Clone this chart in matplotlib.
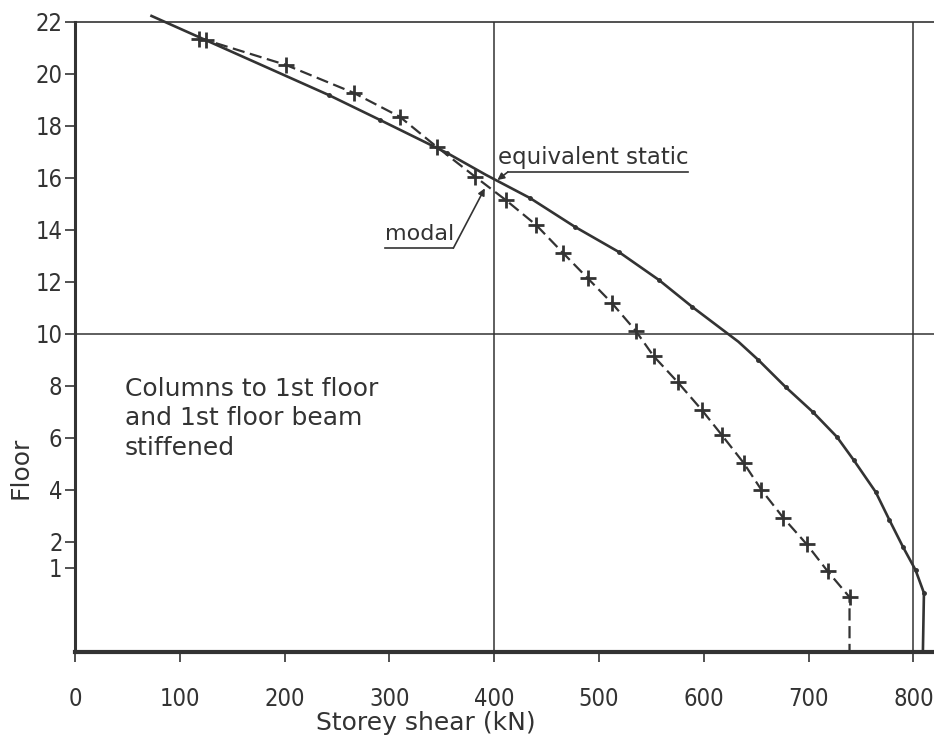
import matplotlib.pyplot as plt

plt.rcParams['font.family'] = 'DejaVu Sans'

# axis ticks
floor_ticks = [1, 2, 4, 6, 8, 10, 12, 14, 16, 18, 20, 22]
shear_ticks = [0, 100, 200, 300, 400, 500, 600, 700, 800]

# equivalent static curve (solid)
static_floor = [22.23, 19.19, 18.23, 16.96, 16.12, 15.23, 14.12, 13.15, 12.08, 11.04,
                9.7, 9.0, 7.96, 7.0, 6.04, 5.15, 3.92, 2.85, 1.81, 0.92, 0.04, -2.23]
static_shear = [73, 242, 291, 355, 392, 434, 477, 519, 557, 589,
                633, 652, 678, 704, 727, 743, 764, 777, 790, 802, 810, 809]

# modal curve (dashed, + markers)
modal_floor = [21.35, 21.3, 20.35, 19.27, 18.35, 17.2, 16.04, 15.15, 14.19, 13.1, 12.15, 11.2,
               10.12, 9.15, 8.15, 7.08, 6.12, 5.04, 4.0, 2.92, 1.92, 0.88, -0.12, -2.23]
modal_shear = [118, 125, 201, 266, 310, 345, 382, 411, 440, 466, 489, 512,
               535, 552, 575, 598, 617, 638, 655, 676, 698, 718, 739, 739]

ink = '#333333'

fig = plt.figure(figsize=(9.34, 7.43), dpi=100)
ax = fig.add_axes([0.0803, 0.1225, 0.9197, 0.848])

# reference lines
ax.axvline(400, color=ink, lw=1.1)
ax.axvline(800, color=ink, lw=1.1)
ax.axhline(10, color=ink, lw=1.1)

ax.plot(static_shear, static_floor, color=ink, lw=1.9, marker='o', ms=2.5,
        markevery=[i for i in range(1, len(static_shear) - 1) if i not in (4, 10)],
        clip_on=False, zorder=3)
ax.plot(modal_shear, modal_floor, color=ink, lw=1.6, ls=(0, (5.5, 2.5)),
        marker='+', ms=11, mew=2, markevery=list(range(len(modal_shear) - 1)), zorder=3)

ax.set_xlim(0, 819.6)
ax.set_ylim(-2.23, 22)
ax.set_xticks(shear_ticks)
ax.set_yticks(floor_ticks)

ax.spines['right'].set_visible(False)
ax.spines['top'].set_linewidth(1.2)
ax.spines['left'].set_linewidth(2.2)
ax.spines['bottom'].set_linewidth(3)
for s in ax.spines.values():
    s.set_color(ink)

ax.tick_params(direction='out', length=7, width=1.2, colors=ink, labelsize=17)
ax.tick_params(axis='x', pad=18)
ax.tick_params(axis='y', pad=2)
for lab in ax.get_xticklabels() + ax.get_yticklabels():
    lab.set_fontstretch('condensed')

ax.set_xlabel('Storey shear (kN)', fontsize=18, color=ink)
ax.xaxis.set_label_coords(0.4086, -0.093)
ax.set_ylabel('Floor', fontsize=18, color=ink)
ax.yaxis.set_label_coords(-0.049, 0.292)

# annotations
ax.text(0.058, 0.437, 'Columns to 1st floor\nand 1st floor beam\nstiffened',
        transform=ax.transAxes, fontsize=18, color=ink, va='top', ha='left',
        linespacing=1.3)

ax.text(404, 16.35, 'equivalent static', fontsize=16.5, color=ink, va='bottom', ha='left')
ax.plot([413, 585], [16.23, 16.23], color=ink, lw=1.2)
ax.annotate('', xy=(403, 15.92), xytext=(413, 16.23),
            arrowprops=dict(arrowstyle='-|>', color=ink, lw=1.2, mutation_scale=10,
                            shrinkA=0, shrinkB=0))

ax.text(296, 13.45, 'modal', fontsize=16, color=ink, va='bottom', ha='left')
ax.plot([296, 361], [13.3, 13.3], color=ink, lw=1.2)
ax.annotate('', xy=(391, 15.6), xytext=(361, 13.3),
            arrowprops=dict(arrowstyle='-|>', color=ink, lw=1.2, mutation_scale=10,
                            shrinkA=0, shrinkB=0))

fig.savefig('out.png', dpi=100, facecolor='white')
